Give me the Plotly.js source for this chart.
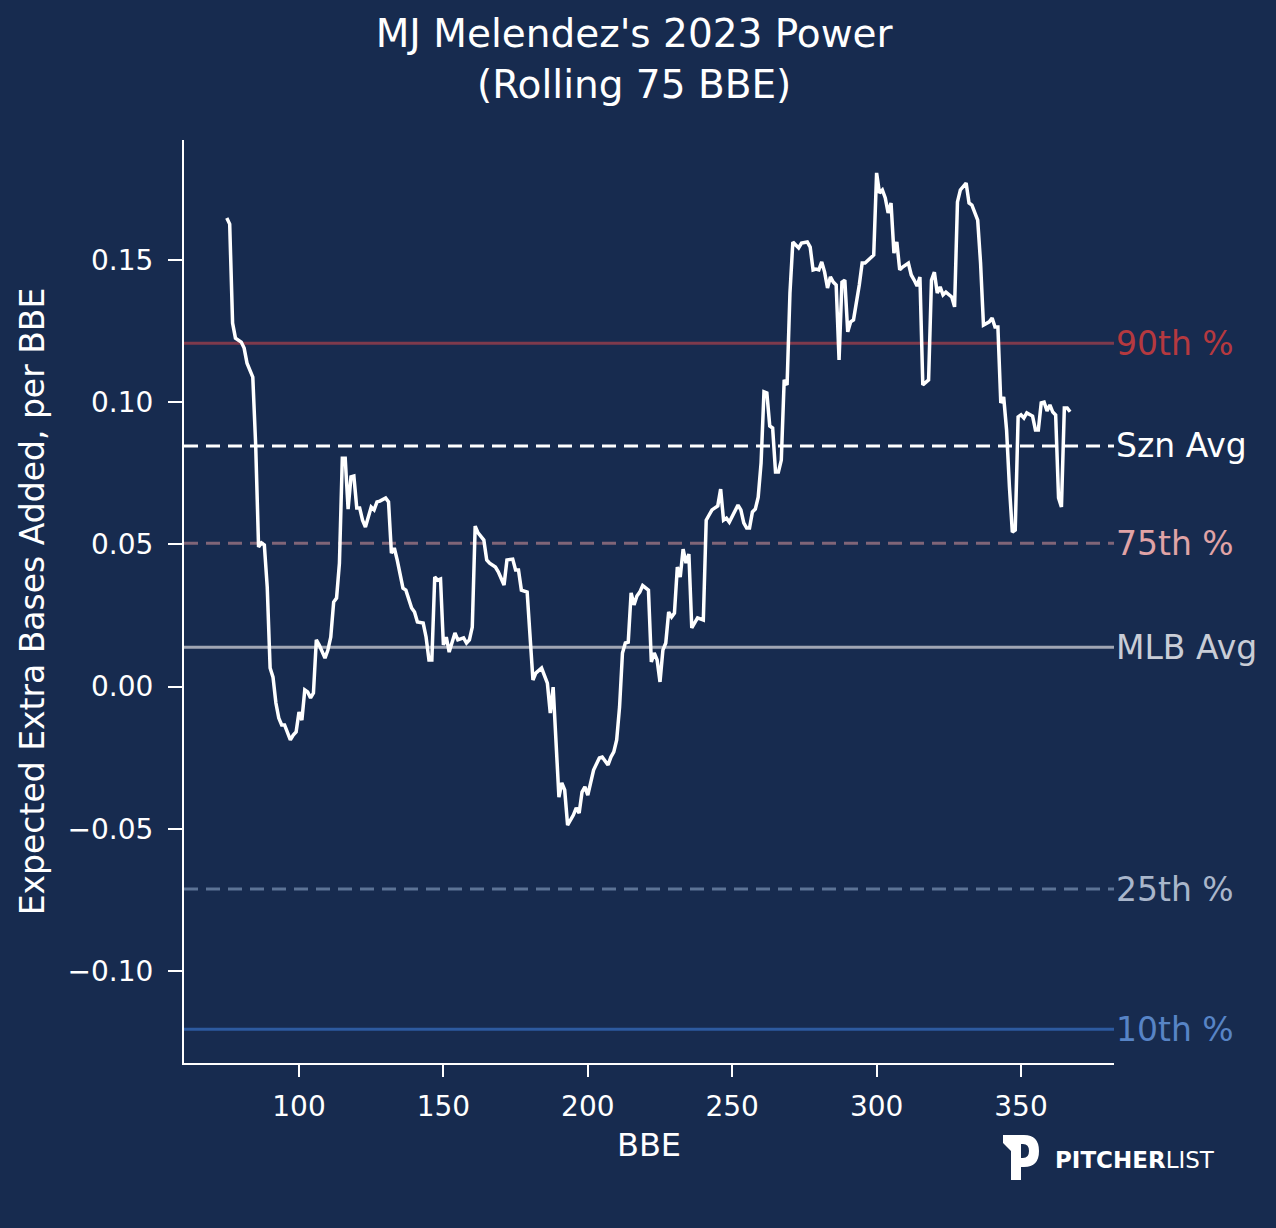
<!DOCTYPE html>
<html>
<head>
<meta charset="utf-8">
<script src="https://cdn.plot.ly/plotly-3.0.1.min.js"></script>
<style>
  html, body { margin: 0; padding: 0; background: #172b4f; }
  #chart { width: 1276px; height: 1228px; }
</style>
</head>
<body>
<div id="chart"></div>
<script>
// ---- Data ----
const bbe = [75,76,77,78,80,81,82,84,85,86,87,88,89,90,91,92,93,94,95,96,97,98,99,100,101,102,103,104,105,106,107,109,110,111,112,113,114,115,116,117,118,119,120,121,122,123,125,126,127,128,130,131,132,133,134,136,137,139,140,141,143,144,145,146,147,148,149,150,151,152,154,155,157,158,159,160,161,162,164,165,166,168,169,171,172,174,175,176,177,179,181,182,184,186,187,188,190,191,192,193,195,196,197,198,199,200,201,202,204,205,207,208,209,210,211,212,213,214,215,216,217,218,219,221,222,223,224,225,226,227,228,229,230,231,232,233,234,235,236,237,238,240,241,242,243,245,246,247,248,249,250,252,253,254,255,256,257,258,259,260,261,262,263,264,265,266,267,268,269,270,271,272,273,274,276,277,278,279,280,281,282,283,284,285,286,287,288,289,290,291,292,294,295,296,298,299,300,301,302,303,304,305,306,307,308,309,311,312,313,314,315,316,318,319,320,321,322,323,324,326,327,328,329,331,332,333,335,336,337,339,340,341,342,343,344,345,346,347,348,349,350,351,352,354,355,356,357,358,359,360,361,362,363,364,365,366,367];
const xebaPerBBE = [0.1647,0.1626,0.1278,0.1225,0.1211,0.1190,0.1137,0.1088,0.0849,0.0491,0.0505,0.0498,0.0350,0.0065,0.0033,-0.0058,-0.0111,-0.0135,-0.0135,-0.0160,-0.0188,-0.0171,-0.0160,-0.0090,-0.0118,-0.0012,-0.0019,-0.0040,-0.0023,0.0164,0.0146,0.0100,0.0128,0.0174,0.0297,0.0311,0.0434,0.0803,0.0803,0.0624,0.0737,0.0740,0.0628,0.0628,0.0585,0.0561,0.0631,0.0621,0.0649,0.0652,0.0663,0.0649,0.0469,0.0487,0.0445,0.0346,0.0339,0.0276,0.0262,0.0227,0.0223,0.0174,0.0093,0.0093,0.0385,0.0374,0.0378,0.0146,0.0174,0.0121,0.0188,0.0164,0.0171,0.0153,0.0164,0.0209,0.0564,0.0540,0.0515,0.0445,0.0434,0.0420,0.0403,0.0357,0.0445,0.0448,0.0410,0.0410,0.0339,0.0332,0.0023,0.0047,0.0065,0.0012,-0.0093,-0.0002,-0.0389,-0.0339,-0.0364,-0.0487,-0.0452,-0.0427,-0.0445,-0.0371,-0.0353,-0.0382,-0.0339,-0.0294,-0.0251,-0.0248,-0.0276,-0.0248,-0.0230,-0.0188,-0.0072,0.0118,0.0153,0.0156,0.0329,0.0287,0.0318,0.0332,0.0355,0.0339,0.0086,0.0118,0.0093,0.0016,0.0128,0.0153,0.0262,0.0244,0.0258,0.0420,0.0385,0.0483,0.0434,0.0466,0.0206,0.0227,0.0241,0.0234,0.0585,0.0603,0.0621,0.0635,0.0694,0.0585,0.0592,0.0578,0.0596,0.0638,0.0621,0.0575,0.0557,0.0557,0.0614,0.0624,0.0666,0.0786,0.1036,0.1032,0.0916,0.0909,0.0754,0.0754,0.0796,0.1078,0.1060,0.1384,0.1563,0.1552,0.1542,0.1559,0.1563,0.1545,0.1465,0.1468,0.1465,0.1493,0.1457,0.1401,0.1440,0.1422,0.1412,0.1148,0.1422,0.1429,0.1247,0.1282,0.1289,0.1412,0.1489,0.1489,0.1507,0.1517,0.1806,0.1735,0.1746,0.1718,0.1665,0.1700,0.1524,0.1563,0.1465,0.1475,0.1489,0.1447,0.1429,0.1408,0.1440,0.1060,0.1078,0.1429,0.1457,0.1384,0.1405,0.1377,0.1387,0.1370,0.1335,0.1704,0.1746,0.1770,0.1700,0.1693,0.1640,0.1489,0.1271,0.1282,0.1296,0.1264,0.1264,0.0997,0.1018,0.0902,0.0701,0.0543,0.0550,0.0948,0.0955,0.0944,0.0962,0.0951,0.0902,0.0902,0.0997,0.1000,0.0969,0.0990,0.0965,0.0955,0.0663,0.0631,0.0979,0.0979,0.0966];

const refLabels = ['90th %', 'Szn Avg', '75th %', 'MLB Avg', '25th %', '10th %'];
const refValues = [0.1207, 0.0846, 0.0504, 0.0138, -0.0712, -0.1205];

const xTickVals = [100, 150, 200, 250, 300, 350];
const yTickVals = [-0.10, -0.05, 0.00, 0.05, 0.10, 0.15];

// ---- Styles ----
const BG = '#172b4f';
const refLineColors = ['#7e3a4c', '#ffffff', '#806578', '#a0a6b4', '#5c7395', '#2d5a9f'];
const refTextColors = ['#b5393f', '#ffffff', '#e0a3a6', '#c9cdd6', '#a9b6cb', '#5784c6'];
const refDash = ['solid', '14px,8px', '14px,8px', 'solid', '14px,8px', 'solid'];

const FONT = 'DejaVu Sans, Liberation Sans, sans-serif';

// plot area in pixels
const L = 184, R = 1114, T = 140, B = 1063;
function pxPath(s) {
  return s.replace(/(-?\d+(?:\.\d+)?),(-?\d+(?:\.\d+)?)/g, function(m, a, b) {
    const px = (parseFloat(a) - L) / (R - L);
    const py = (B - parseFloat(b)) / (B - T);
    return px.toFixed(5) + ',' + py.toFixed(5);
  });
}

const shapes = refValues.map((v, i) => ({
  type: 'line', xref: 'paper', yref: 'y', x0: 0, x1: 1, y0: v, y1: v,
  layer: 'below',
  line: { color: refLineColors[i], width: 3, dash: refDash[i] }
}));

// Pitcher List logo mark
shapes.push({
  type: 'path', xref: 'paper', yref: 'paper', layer: 'above',
  fillrule: 'evenodd',
  path: pxPath('M 1003,1135 L 1024,1135 Q 1039,1135 1039,1151 Q 1039,1167 1024,1167 L 1021,1167 L 1021,1180 L 1011,1180 L 1011,1151 L 1003,1143 Z M 1021,1144 L 1023,1144 Q 1029,1144 1029,1151 Q 1029,1158 1023,1158 L 1021,1158 Z'),
  fillcolor: '#ffffff', line: { width: 0 }
});

const annotations = refValues.map((v, i) => ({
  xref: 'paper', yref: 'y', x: 1, y: v, xanchor: 'left', yanchor: 'middle',
  text: refLabels[i], showarrow: false,
  font: { family: FONT, size: 33, color: refTextColors[i] }
}));

annotations.push({
  xref: 'paper', yref: 'paper',
  x: (1053 - L) / (R - L), y: (B - 1160) / (B - T),
  xanchor: 'left', yanchor: 'middle', showarrow: false,
  text: '<b>PITCHER</b>LIST',
  font: { family: FONT, size: 23, color: '#ffffff' }
});

const trace = {
  type: 'scatter', mode: 'lines',
  x: bbe, y: xebaPerBBE,
  line: { color: '#ffffff', width: 3.5 },
  hoverinfo: 'x+y', showlegend: false
};

const layout = {
  width: 1276, height: 1228,
  paper_bgcolor: BG, plot_bgcolor: BG,
  margin: { l: L, r: 1276 - R, t: T, b: 1228 - B, pad: 0 },
  font: { family: FONT, color: '#ffffff', size: 28 },
  title: {
    text: "MJ Melendez's 2023 Power<br>(Rolling 75 BBE)",
    font: { family: FONT, size: 39, color: '#ffffff' },
    x: 0.497, xref: 'container', xanchor: 'center',
    y: 1 - 47 / 1228, yref: 'container', yanchor: 'top'
  },
  xaxis: {
    range: [60.18, 382.2],
    tickmode: 'array', tickvals: xTickVals,
    showgrid: false, zeroline: false,
    showline: true, linecolor: '#ffffff', linewidth: 2,
    ticks: 'outside', ticklen: 12, tickwidth: 2, tickcolor: '#ffffff',
    tickfont: { family: FONT, size: 28, color: '#ffffff' },
    ticklabelstandoff: 5,
    title: { text: 'BBE', font: { family: FONT, size: 32, color: '#ffffff' }, standoff: 12 },
    fixedrange: true
  },
  yaxis: {
    range: [-0.13238, 0.19216],
    tickmode: 'array', tickvals: yTickVals, tickformat: '.2f',
    showgrid: false, zeroline: false,
    showline: true, linecolor: '#ffffff', linewidth: 2,
    ticks: 'outside', ticklen: 14, tickwidth: 2, tickcolor: '#ffffff',
    tickfont: { family: FONT, size: 28, color: '#ffffff' },
    ticklabelstandoff: 9,
    title: { text: 'Expected Extra Bases Added, per BBE', font: { family: FONT, size: 33, color: '#ffffff' }, standoff: 13 },
    fixedrange: true
  },
  shapes: shapes,
  annotations: annotations
};

Plotly.newPlot('chart', [trace], layout, { displayModeBar: false, staticPlot: true });
</script>
</body>
</html>
